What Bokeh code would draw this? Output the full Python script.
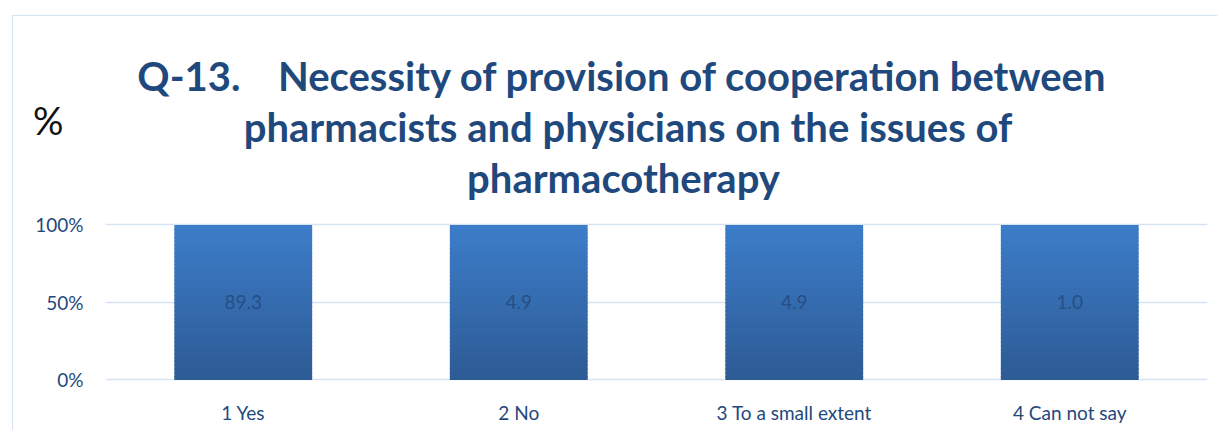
from bokeh.plotting import figure
from bokeh.models import Range1d, NumeralTickFormatter, FixedTicker, LinearAxis, Div
from bokeh.embed import file_html
from bokeh.resources import INLINE
from bokeh.core.properties import value

# ---- data ----
categories = ["1 Yes", "2 No", "3 To a small extent", "4 Can not say"]
percent_values = [89.3, 4.9, 4.9, 1.0]
y_ticks = [0, 0.5, 1.0]
title_prefix = "Q-13."
title_lines = ["Necessity of provision of cooperation between",
               "pharmacists and physicians on the issues of",
               "pharmacotherapy"]
axis_unit = "%"

FONT = "Lato"
TITLE_COLOR = "#1F497D"
TEXT_COLOR = "#1F497D"
GRID_COLOR = "#D6E3F3"
BORDER_COLOR = "#D6E2F1"
TOP_COLOR = (61, 125, 202)
BOTTOM_COLOR = (45, 91, 148)

W, H = 1215, 427
FRAME_L, FRAME_R, FRAME_B = 105, 1207, 381
PX_PER_UNIT = 155.0            # vertical pixels for 100 %
PX_PER_CAT = (FRAME_R - FRAME_L) / len(categories)
Y_LO = -0.01
Y_HI = FRAME_B / PX_PER_UNIT + Y_LO   # frame reaches the top of the canvas


def xd(px):   # page pixel -> synthetic categorical coordinate (for text placement)
    return (px - FRAME_L) / PX_PER_CAT


def yd(py):   # page pixel -> data coordinate
    return (FRAME_B - py) / PX_PER_UNIT + Y_LO


p = figure(width=W, height=H, x_range=categories, y_range=Range1d(Y_LO, Y_HI),
           title=None, output_backend="svg", toolbar_location=None,
           min_border_left=FRAME_L, min_border_right=W - FRAME_R,
           min_border_top=0, min_border_bottom=H - FRAME_B)
p.outline_line_color = None
p.background_fill_color = "white"
p.border_fill_color = "white"

# 100% stacked single series: each bar fills its share of the total (value / value)
shares = [v / v for v in percent_values]

# gradient bars as thin overlapping stacked slices
N = 40
for i in range(N):
    t = (i + 0.5) / N
    r = int(BOTTOM_COLOR[0] + (TOP_COLOR[0] - BOTTOM_COLOR[0]) * t)
    g = int(BOTTOM_COLOR[1] + (TOP_COLOR[1] - BOTTOM_COLOR[1]) * t)
    b = int(BOTTOM_COLOR[2] + (TOP_COLOR[2] - BOTTOM_COLOR[2]) * t)
    col = "#%02x%02x%02x" % (r, g, b)
    p.vbar(x=categories, width=0.5,
           bottom=[max(0.0, s * i / N - 0.01) for s in shares],
           top=[s * (i + 1) / N for s in shares],
           fill_color=col, line_color=None)

# value labels in the middle of each bar
p.text(x=categories, y=[s / 2 for s in shares], text=["%.1f" % v for v in percent_values],
       text_align="center", text_baseline="middle", text_font=value(FONT),
       text_font_size="19px", text_color="#274E86")

# title
p.text(x=[xd(240)], y=[yd(75)], text=[title_prefix], text_align="right",
       text_baseline="alphabetic", text_font=value(FONT), text_font_style="bold",
       text_font_size="40px", text_color=TITLE_COLOR)
p.text(x=[xd(692.5), xd(627.5), xd(623)], y=[yd(75), yd(126), yd(177)], text=title_lines,
       text_align="center", text_baseline="alphabetic", text_font=value(FONT),
       text_font_style="bold", text_font_size="40px", text_color=TITLE_COLOR)

# axes
p.yaxis.ticker = FixedTicker(ticks=y_ticks)
p.yaxis.formatter = NumeralTickFormatter(format="0%")
for ax in (p.xaxis, p.yaxis):
    ax.axis_line_color = None
    ax.major_tick_line_color = None
    ax.minor_tick_line_color = None
    ax.major_label_text_font = FONT
    ax.major_label_text_font_size = "19px"
    ax.major_label_text_color = TEXT_COLOR
p.yaxis.major_label_standoff = 16
p.xaxis.major_label_standoff = 13

# unit label "%" as a second left axis with a single tick
y_unit = yd(119)
unit_axis = LinearAxis(ticker=FixedTicker(ticks=[y_unit]),
                       major_label_overrides={y_unit: axis_unit},
                       axis_line_color=None, major_tick_line_color=None,
                       minor_tick_line_color=None, major_label_standoff=-37,
                       major_label_text_font=FONT, major_label_text_font_size="38px",
                       major_label_text_color="#111111")
p.add_layout(unit_axis, "left")

p.xgrid.grid_line_color = None
p.ygrid.ticker = FixedTicker(ticks=y_ticks)
p.ygrid.grid_line_color = GRID_COLOR
p.ygrid.grid_line_width = 1.5

# chart border (left and top edges are visible in the window)
border = Div(text="", width=1205, height=415, margin=0,
             styles={"position": "absolute", "left": "12px", "top": "15px",
                     "margin": "0px",
                     "border-left": "1.5px solid " + BORDER_COLOR,
                     "border-top": "1.5px solid " + BORDER_COLOR,
                     "pointer-events": "none", "z-index": "5",
                     "box-sizing": "border-box"})

open("out.html", "w").write(file_html([p, border], INLINE))
